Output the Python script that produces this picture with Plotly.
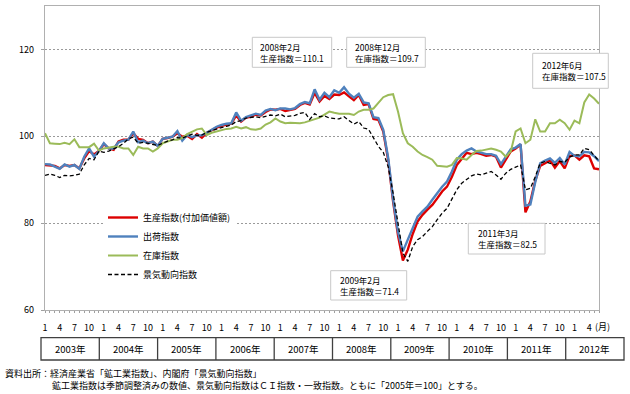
import plotly.graph_objects as go

# ---------------- data ----------------
years = ["2003年", "2004年", "2005年", "2006年", "2007年",
         "2008年", "2009年", "2010年", "2011年", "2012年"]
month_tick_labels = ["1", "4", "7", "10"]

production = [
    93.4, 93.3, 93.2, 92.6, 93.4, 93.2, 93.4, 92.6, 94.9, 96.6, 95.8, 96.6,
    98.2, 97.2, 96.9, 98.8, 99.2, 99.2, 100.7, 99.4, 99.2, 98.4, 98.8, 97.8,
    99.4, 99.6, 99.9, 100.7, 99.9, 100.1, 99.4, 100.5, 99.7, 100.8, 101.5, 102.0,
    102.4, 102.7, 102.9, 104.8, 103.4, 104.3, 104.5, 105.0, 104.8, 105.6, 106.2, 106.1,
    106.3, 105.8, 106.1, 106.3, 107.2, 107.7, 107.3, 110.0, 108.0, 109.3, 108.6, 109.6,
    109.5, 110.1, 109.2, 108.3, 109.5, 107.2, 107.4, 104.0, 103.8, 101.1, 94.5, 85.0,
    77.2, 71.4, 73.9, 77.5, 80.4, 81.9, 83.1, 84.2, 85.7, 87.3, 88.4, 90.7,
    93.4, 94.9, 96.2, 95.9, 96.2, 95.9, 95.5, 95.7, 95.3, 92.8, 94.8, 96.5,
    97.2, 98.1, 82.5, 85.0, 89.8, 93.2, 93.8, 94.5, 92.8, 94.3, 92.6, 95.5,
    95.6, 94.6, 95.6, 95.4, 92.6, 92.4,
]
shipments = [
    93.6, 93.5, 93.0, 92.5, 93.5, 93.0, 93.4, 92.5, 95.3, 97.2, 95.3, 96.6,
    98.4, 97.2, 97.2, 98.6, 99.0, 99.2, 101.1, 98.6, 99.0, 98.4, 98.8, 97.8,
    99.4, 99.6, 99.9, 101.2, 99.0, 100.3, 99.8, 100.2, 100.2, 100.8, 101.6, 102.2,
    102.6, 102.9, 103.0, 105.5, 103.6, 104.4, 104.8, 105.2, 104.9, 105.9, 106.3, 106.0,
    106.4, 106.4, 106.2, 106.5, 107.4, 107.9, 107.6, 110.8, 108.4, 110.0, 109.0, 110.6,
    110.0, 111.3, 109.8, 108.9, 109.8, 107.8, 107.6, 104.4, 104.2, 101.5, 95.0, 85.5,
    78.0, 73.5, 76.2, 78.8, 81.5, 82.7, 83.8, 85.4, 86.9, 88.4, 89.6, 91.9,
    94.6, 95.9, 96.7, 97.2, 96.5, 96.2, 95.9, 95.9, 95.5, 93.6, 95.3, 97.0,
    97.4, 98.2, 84.0, 84.3, 89.5, 93.8, 94.4, 94.9, 93.9, 95.0, 93.5, 96.4,
    95.5, 95.4, 96.4, 96.3, 95.4, 94.3,
]
inventory = [
    100.7, 98.4, 98.3, 98.2, 98.5, 98.2, 99.3, 97.5, 97.5, 97.5, 98.3, 96.7,
    97.2, 97.4, 97.6, 97.6, 97.2, 97.2, 95.7, 97.6, 97.2, 97.2, 96.5, 97.2,
    98.4, 98.8, 99.2, 99.2, 99.6, 100.5, 101.0, 101.6, 101.8, 100.3, 100.8, 101.1,
    101.5, 101.7, 101.8, 102.2, 101.8, 102.1, 101.6, 101.5, 101.8, 102.7, 103.2, 104.1,
    103.4, 103.0, 103.1, 103.0, 103.0, 103.2, 103.6, 103.9, 104.3, 105.0, 105.7, 105.4,
    105.2, 105.2, 105.2, 104.9, 105.7, 106.1, 106.1, 106.4, 107.8, 109.0, 109.5, 109.7,
    105.7, 100.7, 98.4, 97.6, 96.5, 95.7, 95.2, 94.6, 93.2, 93.1, 93.0, 93.4,
    95.0, 94.9, 94.6, 95.7, 96.6, 96.7, 96.9, 97.2, 96.9, 96.5, 95.3, 96.5,
    101.1, 101.8, 98.4, 99.2, 103.9, 101.1, 101.1, 103.0, 103.0, 103.8, 103.0, 101.5,
    103.6, 103.0, 107.8, 109.6, 108.7, 107.5,
]
ci_index = [
    91.0, 91.3, 91.0, 90.5, 91.0, 90.9, 91.0, 91.3, 93.4, 94.9, 94.6, 96.6,
    96.3, 96.6, 97.1, 97.6, 98.4, 99.4, 99.8, 98.4, 98.6, 98.4, 98.2, 97.9,
    98.4, 98.9, 99.2, 99.7, 99.6, 100.0, 100.5, 100.2, 100.3, 100.9, 101.3, 101.6,
    102.0, 102.3, 102.6, 103.4, 103.6, 104.2, 104.3, 104.5, 104.3, 104.6, 104.9, 104.7,
    105.1, 104.5, 104.7, 104.8, 105.3, 105.5, 103.9, 105.2, 104.5, 104.7, 104.2, 104.1,
    104.0, 104.5, 103.6, 102.8, 103.4, 101.9, 101.6, 99.5, 97.7, 96.3, 93.0, 86.9,
    80.0, 73.1, 71.2, 74.6, 76.2, 76.9, 78.1, 79.2, 80.8, 82.3, 83.4, 85.4,
    87.7, 89.2, 90.1, 90.9, 91.3, 91.1, 91.5, 91.9, 91.1, 90.1, 91.5, 92.4,
    92.9, 93.4, 87.7, 88.0, 90.7, 93.8, 94.2, 93.8, 93.4, 94.2, 94.0, 95.2,
    95.7, 95.7, 97.2, 96.9, 95.7, 94.3,
]

series_names = ["生産指数(付加価値額)", "出荷指数", "在庫指数", "景気動向指数"]

callouts = [
    ("2008年2月", "生産指数＝110.1"),
    ("2008年12月", "在庫指数＝109.7"),
    ("2012年6月", "在庫指数＝107.5"),
    ("2011年3月", "生産指数＝82.5"),
    ("2009年2月", "生産指数＝71.4"),
]
source_line1 = "資料出所：経済産業省「鉱工業指数」、内閣府「景気動向指数」"
source_line2 = "鉱工業指数は季節調整済みの数値、景気動向指数はＣＩ指数・一致指数。ともに「2005年＝100」とする。"

# ---------------- categories ----------------
n = len(production)
cats = []
ticktext = []
for k in range(n):
    y = 2003 + k // 12
    m = k % 12 + 1
    cats.append(f"{y}/{m:02d}")
    ticktext.append(str(m) if m in (1, 4, 7, 10) else "")

# ---------------- geometry helpers (pixel -> paper) ----------------
W, H = 630, 394
L, R, T, B = 45, 31, 6, 84
PW, PH = W - L - R, H - T - B


def px(x):
    return (x - L) / PW


def py(y):
    return (H - B - y) / PH


FONT = "Noto Sans CJK JP, Noto Sans, sans-serif"

fig = go.Figure()
styles = [
    dict(color="#dd0000", width=2.4),
    dict(color="#4f81bd", width=2.4),
    dict(color="#9bbb59", width=2.0),
    dict(color="#000000", width=1.3, dash="4px,2.5px"),
]
for name, vals, st in zip(series_names, [production, shipments, inventory, ci_index], styles):
    fig.add_trace(go.Scatter(x=cats, y=vals, mode="lines", name=name, line=st,
                             hoverinfo="x+y+name"))

# ---------------- shapes: callout boxes, year table ----------------
shapes = []
annotations = []

box_px = [
    (252.3, 37.3, 331.7, 67.3, 258.3),
    (346.7, 37.3, 425.3, 67.3, 353.3),
    (532.7, 53.3, 608.3, 88.3, 539.5),
    (468.3, 223.3, 545.0, 254.0, 475.5),
    (330.7, 270.7, 406.7, 300.0, 338.0),
]
for (x0, y0, x1, y1, tx), (l1, l2) in zip(box_px, callouts):
    shapes.append(dict(type="rect", xref="paper", yref="paper",
                       x0=px(x0), x1=px(x1), y0=py(y1), y1=py(y0),
                       line=dict(color="#c8c8c8", width=1), fillcolor="white",
                       layer="above"))
    annotations.append(dict(xref="paper", yref="paper", x=px(tx), y=py((y0 + y1) / 2),
                            xanchor="left", yanchor="middle", align="left",
                            text=f"{l1}<br>{l2}", showarrow=False,
                            font=dict(size=8.5, color="#000000", family=FONT)))

# year table
tx0, tx1 = 41.0, 624.0
ty0, ty1 = 337.7, 360.0
yw = (tx1 - tx0) / len(years)
shapes.append(dict(type="rect", xref="paper", yref="paper",
                   x0=px(tx0), x1=px(tx1), y0=py(ty1), y1=py(ty0),
                   line=dict(color="#404040", width=1.3), fillcolor="rgba(0,0,0,0)"))
for k, yr in enumerate(years):
    if k > 0:
        xb = tx0 + k * yw
        shapes.append(dict(type="line", xref="paper", yref="paper",
                           x0=px(xb), x1=px(xb), y0=py(ty1), y1=py(ty0),
                           line=dict(color="#404040", width=1.3)))
    annotations.append(dict(xref="paper", yref="paper", x=px(tx0 + (k + 0.5) * yw),
                            y=py((ty0 + ty1) / 2), xanchor="center", yanchor="middle",
                            text=yr, showarrow=False,
                            font=dict(size=9.5, color="#000000", family=FONT)))

# month unit label
annotations.append(dict(xref="paper", yref="paper", x=px(592.5), y=py(326),
                        xanchor="left", yanchor="middle", text="(月)", showarrow=False,
                        font=dict(size=9, color="#000000", family=FONT)))
# source notes
annotations.append(dict(xref="paper", yref="paper", x=px(3), y=py(373.3),
                        xanchor="left", yanchor="middle", text=source_line1, showarrow=False,
                        font=dict(size=9, color="#000000", family=FONT)))
annotations.append(dict(xref="paper", yref="paper", x=px(50), y=py(385.6),
                        xanchor="left", yanchor="middle", text=source_line2, showarrow=False,
                        font=dict(size=9, color="#000000", family=FONT)))

fig.update_layout(
    width=W, height=H,
    margin=dict(l=L, r=R, t=T, b=B, pad=0),
    paper_bgcolor="white", plot_bgcolor="white",
    font=dict(family=FONT, size=9, color="#000000"),
    showlegend=True,
    legend=dict(x=px(103), y=py(203), xanchor="left", yanchor="top",
                bgcolor="white", borderwidth=0, font=dict(size=9, family=FONT),
                tracegroupgap=0),
    shapes=shapes,
    annotations=annotations,
    xaxis=dict(type="category", categoryorder="array", categoryarray=cats,
               range=[0, n - 1], tickmode="array", tickvals=cats, ticktext=ticktext,
               ticks="outside", ticklen=2, tickcolor="#a0a0a0", tickwidth=1,
               showline=True, linecolor="#b0b0b0", linewidth=1.3, mirror=True,
               showgrid=False, zeroline=False, tickangle=0,
               tickfont=dict(size=9, family=FONT), ticklabelstandoff=7),
    yaxis=dict(range=[60, 130], tickvals=[60, 80, 100, 120],
               ticks="outside", ticklen=3, tickcolor="#a0a0a0",
               showline=True, linecolor="#b0b0b0", linewidth=1.3, mirror=True,
               showgrid=True, gridcolor="#9a9a9a", gridwidth=0.8, griddash="2px,2px",
               zeroline=False, tickfont=dict(size=9, family=FONT), ticklabelstandoff=5),
)

fig.write_html(
    "out.html",
    config={"displayModeBar": False},
    post_script="document.body.style.margin='0px';document.body.style.overflow='hidden';",
)
